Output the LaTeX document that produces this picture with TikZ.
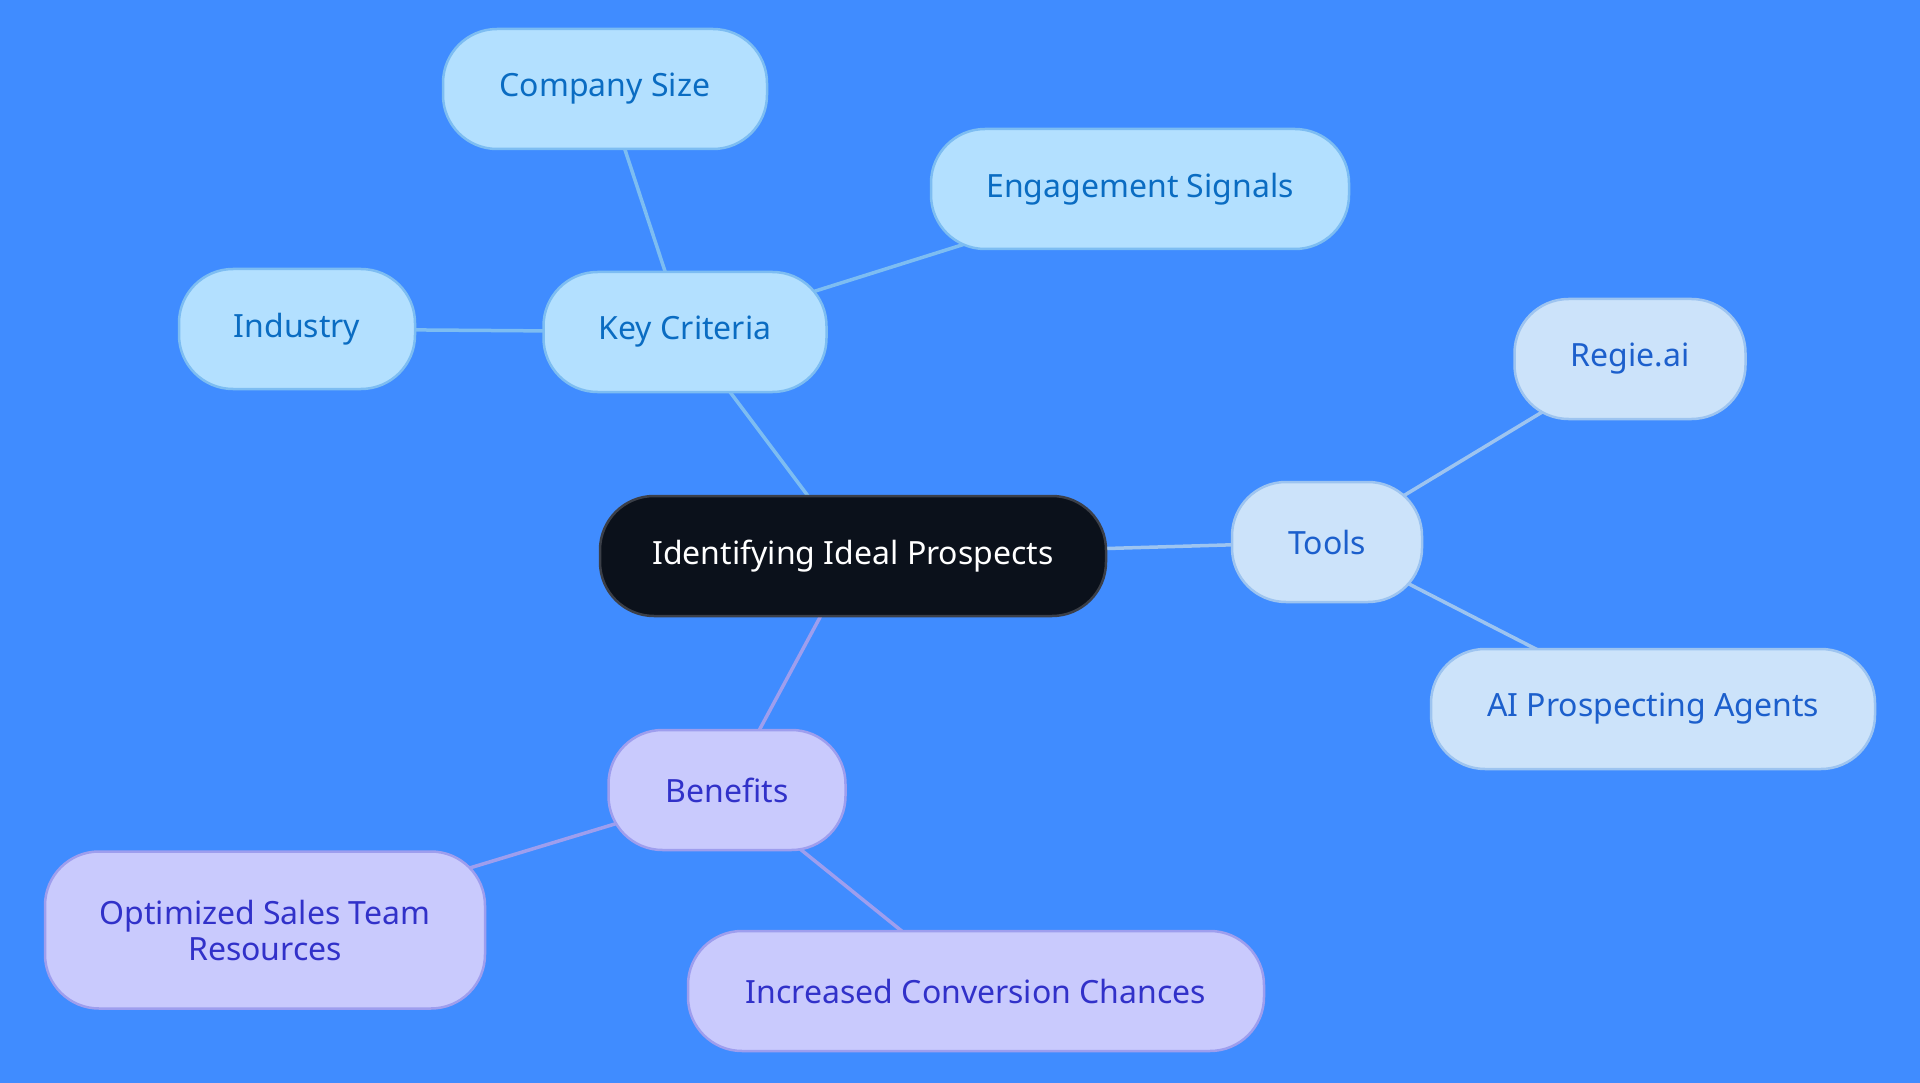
\documentclass[tikz,border=0pt]{standalone}
\usepackage{fontspec}
\setmainfont{Noto Sans}
\usetikzlibrary{backgrounds}
\definecolor{bgc}{HTML}{408CFF}
\definecolor{kfill}{HTML}{B3E0FF}
\definecolor{kdraw}{HTML}{7DBDF2}
\definecolor{ktext}{HTML}{0A6CC2}
\definecolor{tfill}{HTML}{CCE3FA}
\definecolor{tdraw}{HTML}{9DC4F0}
\definecolor{ttext}{HTML}{1C5FCC}
\definecolor{bfill}{HTML}{C9CAFD}
\definecolor{bdraw}{HTML}{9E9EEE}
\definecolor{btext}{HTML}{3131C9}
\definecolor{cfill}{HTML}{0B111B}
\definecolor{cdraw}{HTML}{3B3F48}
\tikzset{
  pill/.style={rounded corners=54pt, line width=2.5pt, inner sep=0pt, minimum height=120pt, align=center, font=\fontsize{32}{36}\selectfont},
  central/.style={pill, fill=cfill, draw=cdraw, text=white},
  keybox/.style={pill, fill=kfill, draw=kdraw, text=ktext},
  toolbox/.style={pill, fill=tfill, draw=tdraw, text=ttext},
  benbox/.style={pill, fill=bfill, draw=bdraw, text=btext},
  kline/.style={draw=kdraw, line width=3.5pt},
  tline/.style={draw=tdraw, line width=3.5pt},
  bline/.style={draw=bdraw, line width=3.5pt},
}
\begin{document}
\begin{tikzpicture}[x=1pt,y=-1pt]
\useasboundingbox (0,0) rectangle (1920,1083);
\node[central, minimum width=506pt] (c) at (853,556) {Identifying Ideal Prospects};
\node[keybox, minimum width=283pt] (kc) at (685,332) {Key Criteria};
\node[keybox, minimum width=324pt] (cs) at (605,89) {Company Size};
\node[keybox, minimum width=418pt] (es) at (1140,189) {Engagement Signals};
\node[keybox, minimum width=236pt] (ind) at (297,329) {Industry};
\node[toolbox, minimum width=190pt] (tl) at (1327,542) {Tools};
\node[toolbox, minimum width=231pt] (rg) at (1630,359) {Regie.ai};
\node[toolbox, minimum width=444pt] (ai) at (1653,709) {AI Prospecting Agents};
\node[benbox, minimum width=237pt] (bn) at (727,790) {Benefits};
\node[benbox, minimum width=440pt, minimum height=157pt] (op) at (265,930) {Optimized Sales Team\\Resources};
\node[benbox, minimum width=576pt] (ic) at (976,991) {Increased Conversion Chances};
\begin{pgfonlayer}{background}
\fill[bgc] (0,0) rectangle (1920,1083);
\draw[kline] (c.center) -- (kc.center);
\draw[kline] (kc.center) -- (cs.center);
\draw[kline] (kc.center) -- (es.center);
\draw[kline] (kc.center) -- (ind.center);
\draw[tline] (c.center) -- (tl.center);
\draw[tline] (tl.center) -- (rg.center);
\draw[tline] (tl.center) -- (ai.center);
\draw[bline] (c.center) -- (bn.center);
\draw[bline] (bn.center) -- (op.center);
\draw[bline] (bn.center) -- (ic.center);
\end{pgfonlayer}
\end{tikzpicture}
\end{document}
